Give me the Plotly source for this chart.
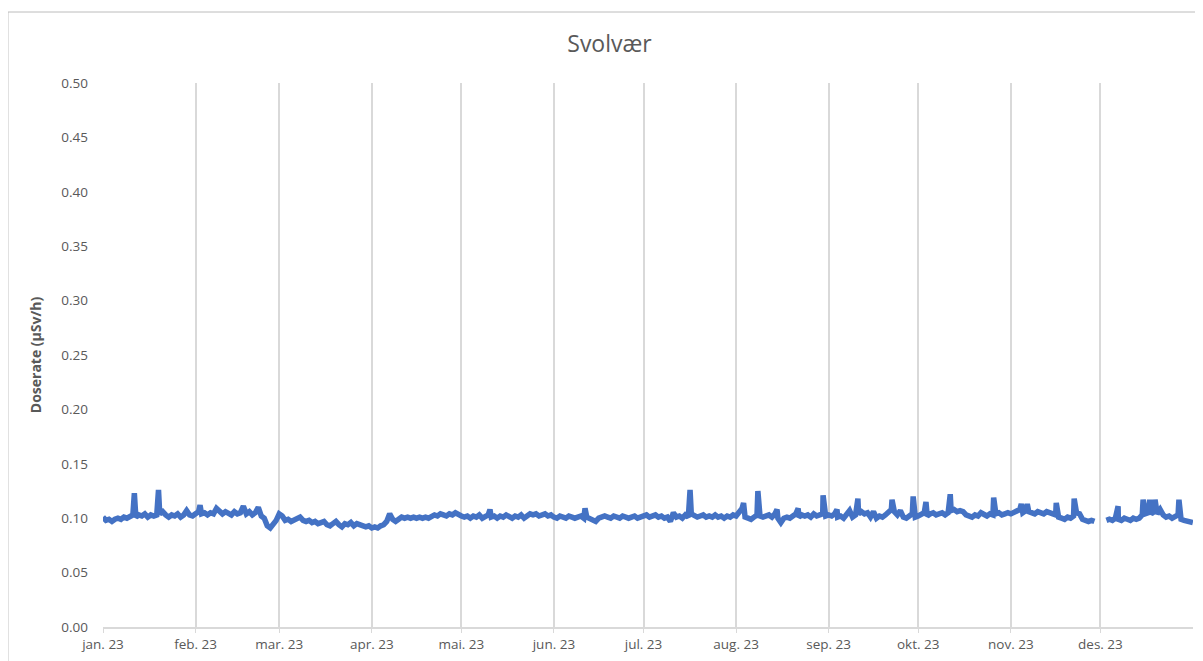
import pandas as pd
import plotly.graph_objects as go

# Daily readings (µSv/h) at 00:00 each day
jan = [0.101, 0.098, 0.099, 0.097, 0.099, 0.100, 0.099, 0.101, 0.100, 0.102,
       0.103, 0.101, 0.103, 0.102, 0.104, 0.101, 0.103, 0.102, 0.103, 0.104,
       0.106, 0.103, 0.101, 0.103, 0.102, 0.104, 0.101, 0.103, 0.107, 0.103, 0.102]
feb = [0.104, 0.106, 0.104, 0.105, 0.103, 0.105, 0.104, 0.109, 0.106, 0.104,
       0.106, 0.105, 0.103, 0.106, 0.104, 0.105, 0.111, 0.104, 0.106, 0.103,
       0.105, 0.110, 0.102, 0.100, 0.093, 0.091, 0.094, 0.098]
mar = [0.104, 0.102, 0.098, 0.099, 0.097, 0.098, 0.099, 0.101, 0.098, 0.097,
       0.098, 0.096, 0.097, 0.095, 0.096, 0.097, 0.094, 0.093, 0.095, 0.097,
       0.094, 0.092, 0.095, 0.094, 0.096, 0.093, 0.095, 0.094, 0.093, 0.092, 0.093]
apr = [0.091, 0.092, 0.091, 0.093, 0.094, 0.097, 0.104, 0.099, 0.097, 0.099,
       0.101, 0.100, 0.101, 0.100, 0.101, 0.100, 0.101, 0.100, 0.101, 0.100,
       0.102, 0.103, 0.102, 0.104, 0.103, 0.102, 0.104, 0.103, 0.105, 0.103]
may = [0.102, 0.101, 0.102, 0.100, 0.102, 0.101, 0.103, 0.100, 0.102, 0.103,
       0.101, 0.102, 0.100, 0.102, 0.101, 0.103, 0.101, 0.100, 0.102, 0.101,
       0.103, 0.100, 0.102, 0.104, 0.103, 0.104, 0.102, 0.103, 0.104, 0.102, 0.103]
jun = [0.101, 0.100, 0.102, 0.101, 0.100, 0.102, 0.101, 0.100, 0.101, 0.102,
       0.100, 0.101, 0.100, 0.099, 0.097, 0.100, 0.101, 0.102, 0.101, 0.100,
       0.102, 0.101, 0.100, 0.102, 0.101, 0.100, 0.101, 0.102, 0.100, 0.101]
jul = [0.102, 0.103, 0.101, 0.102, 0.103, 0.101, 0.102, 0.100, 0.101, 0.097,
       0.105, 0.101, 0.102, 0.100, 0.103, 0.101, 0.104, 0.102, 0.101, 0.102,
       0.103, 0.101, 0.102, 0.101, 0.103, 0.101, 0.102, 0.100, 0.102, 0.101, 0.103]
aug = [0.102, 0.106, 0.109, 0.101, 0.100, 0.099, 0.101, 0.103, 0.102, 0.101,
       0.102, 0.103, 0.101, 0.104, 0.100, 0.096, 0.100, 0.101, 0.100, 0.102,
       0.104, 0.101, 0.103, 0.102, 0.103, 0.101, 0.104, 0.102, 0.103, 0.104, 0.102]
sep = [0.103, 0.102, 0.104, 0.101, 0.102, 0.100, 0.103, 0.107, 0.101, 0.103,
       0.104, 0.106, 0.104, 0.105, 0.101, 0.106, 0.100, 0.102, 0.101, 0.103,
       0.106, 0.108, 0.106, 0.103, 0.107, 0.101, 0.100, 0.102, 0.104, 0.101]
okt = [0.102, 0.103, 0.105, 0.102, 0.104, 0.105, 0.103, 0.104, 0.105, 0.103,
       0.105, 0.107, 0.108, 0.106, 0.107, 0.106, 0.103, 0.102, 0.101, 0.103,
       0.102, 0.105, 0.103, 0.102, 0.104, 0.103, 0.104, 0.105, 0.103, 0.104, 0.105]
nov = [0.104, 0.105, 0.106, 0.108, 0.105, 0.107, 0.106, 0.105, 0.104, 0.106,
       0.105, 0.104, 0.106, 0.105, 0.104, 0.103, 0.101, 0.100, 0.099, 0.101,
       0.100, 0.102, 0.105, 0.104, 0.099, 0.098, 0.097, 0.098, 0.097, None]
des = [None, None, 0.098, 0.099, 0.098, 0.100, 0.099, 0.098, 0.100, 0.099,
       0.098, 0.100, 0.099, 0.100, 0.103, 0.104, 0.105, 0.104, 0.106, 0.104,
       0.108, 0.103, 0.101, 0.102, 0.100, 0.101, 0.103, 0.099, 0.098, 0.097, 0.097]

# Short peaks (time, value)
peak_times = ["2023-01-11 12:00", "2023-01-19 14:00", "2023-02-02 12:00",
              "2023-05-10 14:00", "2023-06-11 10:00", "2023-07-16 14:00",
              "2023-08-03 12:00", "2023-08-08 07:00", "2023-08-14 17:00",
              "2023-08-21 19:00", "2023-08-30 03:00", "2023-09-03 19:00",
              "2023-09-10 19:00", "2023-09-22 05:00", "2023-09-29 07:00",
              "2023-10-03 14:00", "2023-10-11 17:00", "2023-10-26 06:00",
              "2023-11-04 12:00", "2023-11-06 12:00", "2023-11-16 05:00",
              "2023-11-22 05:00", "2023-12-06 22:00", "2023-12-15 07:00",
              "2023-12-17 12:00", "2023-12-19 07:00", "2023-12-27 07:00",
              "2023-12-31 23:00"]
peak_values = [0.123, 0.126, 0.112,
               0.108, 0.109, 0.126,
               0.114, 0.125, 0.108,
               0.109, 0.121, 0.108,
               0.118, 0.117, 0.120,
               0.115, 0.122, 0.119,
               0.113, 0.113, 0.114,
               0.118, 0.111, 0.117,
               0.117, 0.117, 0.117,
               0.096]

month_starts = ["2023-01-01", "2023-02-01", "2023-03-01", "2023-04-01", "2023-05-01",
                "2023-06-01", "2023-07-01", "2023-08-01", "2023-09-01", "2023-10-01",
                "2023-11-01", "2023-12-01"]
month_labels = ["jan. 23", "feb. 23", "mar. 23", "apr. 23", "mai. 23", "jun. 23",
                "jul. 23", "aug. 23", "sep. 23", "okt. 23", "nov. 23", "des. 23"]
y_ticks = [0.00, 0.05, 0.10, 0.15, 0.20, 0.25, 0.30, 0.35, 0.40, 0.45, 0.50]

daily = jan + feb + mar + apr + may + jun + jul + aug + sep + okt + nov + des
days = pd.date_range("2023-01-01", periods=len(daily), freq="D")
df = pd.concat([
    pd.DataFrame({"t": days, "v": daily}),
    pd.DataFrame({"t": pd.to_datetime(peak_times), "v": peak_values}),
]).sort_values("t")

grey = "#595959"
fig = go.Figure()
fig.add_trace(go.Scatter(
    x=df["t"], y=df["v"], mode="lines", connectgaps=False,
    line=dict(color="#4472C4", width=5.5), showlegend=False,
))

fig.update_layout(
    width=1203, height=661,
    margin=dict(l=95, r=18, t=75, b=42),
    paper_bgcolor="white", plot_bgcolor="white",
    font=dict(family="Open Sans", color=grey, size=13),
    title=dict(text="Svolvær", x=0.5, xanchor="center", y=0.945, yanchor="middle",
               font=dict(size=23, color=grey)),
    shapes=[dict(type="rect", xref="paper", yref="paper",
                 x0=-0.0872, x1=1.0073, y0=-0.1, y1=1.1305,
                 line=dict(color="#bcbcbc", width=1), fillcolor="rgba(0,0,0,0)",
                 layer="below")],
)
fig.update_xaxes(
    range=["2023-01-01", "2024-01-01"],
    tickvals=month_starts, ticktext=month_labels,
    showgrid=True, gridcolor="#d9d9d9", gridwidth=1.5,
    showline=True, linecolor="#d9d9d9", linewidth=1.5,
    ticks="outside", ticklen=4, tickcolor="#d9d9d9",
    tickfont=dict(size=13.5, color=grey), zeroline=False,
)
fig.update_yaxes(
    range=[0, 0.5], tickvals=y_ticks, tickformat=".2f",
    showgrid=False, zeroline=False, showline=False, ticks="",
    ticklabelstandoff=14,
    tickfont=dict(size=13.5, color=grey),
    title=dict(text="<b>Doserate (µSv/h)</b>", standoff=16,
               font=dict(size=14, color=grey)),
)

fig.write_html("out.html")
